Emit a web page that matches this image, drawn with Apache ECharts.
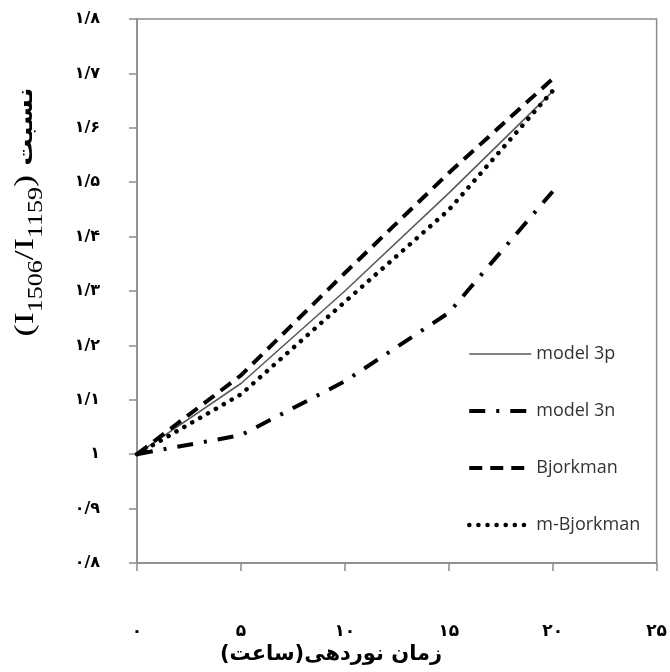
<!DOCTYPE html>
<html>
<head>
<meta charset="utf-8">
<script src="https://cdn.jsdelivr.net/npm/echarts@6/dist/echarts.min.js"></script>
<style>
  html, body { margin: 0; padding: 0; background: #fff; }
  #chart { width: 670px; height: 672px; }
</style>
</head>
<body>
<div id="chart"></div>
<script>
// hours of irradiation
var hours = [0, 5, 10, 15, 20];
var model3p = [1.0, 1.13, 1.30, 1.48, 1.667];
var model3n = [1.0, 1.035, 1.134, 1.26, 1.483];
var bjorkman = [1.0, 1.145, 1.333, 1.517, 1.69];
var mBjorkman = [1.0, 1.11, 1.28, 1.449, 1.668];

var xTickLabels = ['۰', '۵', '۱۰', '۱۵', '۲۰', '۲۵'];
var yTickLabels = ['۰/۸', '۰/۹', '۱', '۱/۱', '۱/۲', '۱/۳', '۱/۴', '۱/۵', '۱/۶', '۱/۷', '۱/۸'];

function pairs(ys) {
    var out = [];
    for (var i = 0; i < hours.length; i++) {
        out.push([hours[i], ys[i]]);
    }
    return out;
}

var chart = echarts.init(document.getElementById('chart'));

var option = {
    animation: false,
    grid: {
        left: 137, right: 11, top: 19, bottom: 109,
        show: true,
        borderColor: '#8c8c8c',
        borderWidth: 1.5
    },
    xAxis: {
        type: 'value',
        min: 0, max: 25, interval: 5,
        splitLine: { show: false },
        axisLine: { lineStyle: { color: '#8c8c8c', width: 1.5 } },
        axisTick: { show: true, length: 8, lineStyle: { color: '#8c8c8c', width: 1.5 } },
        axisLabel: {
            margin: 60,
            color: '#000',
            fontSize: 17,
            fontWeight: 'bold',
            fontFamily: 'DejaVu Sans',
            formatter: function (v) { return xTickLabels[Math.round(v / 5)]; }
        }
    },
    yAxis: {
        type: 'value',
        min: 0.8, max: 1.8, interval: 0.1,
        splitLine: { show: false },
        axisLine: { show: true, lineStyle: { color: '#8c8c8c', width: 1.5 } },
        axisTick: { show: true, length: 8, lineStyle: { color: '#8c8c8c', width: 1.5 } },
        axisLabel: {
            margin: 37,
            color: '#000',
            fontSize: 16,
            fontWeight: 'bold',
            fontFamily: 'DejaVu Sans',
            formatter: function (v) { return yTickLabels[Math.round(v * 10) - 8]; }
        }
    },
    legend: {
        orient: 'vertical',
        left: 462, top: 340,
        itemWidth: 62, itemHeight: 16,
        itemGap: 39,
        // hide the circle that line series put in the middle of the icon
        itemStyle: { color: 'rgba(0,0,0,0)', borderColor: 'rgba(0,0,0,0)', borderWidth: 0, opacity: 0 },
        textStyle: { fontFamily: 'Open Sans', fontSize: 18, color: '#333' },
        data: [
            { name: 'model 3p', lineStyle: { width: 1.6 } },
            { name: 'model 3n', lineStyle: { width: 4 } },
            { name: 'Bjorkman', lineStyle: { width: 4 } },
            { name: 'm-Bjorkman', lineStyle: { width: 4.5 } }
        ]
    },
    graphic: [{
        type: 'text',
        x: 29, y: 212,
        rotation: Math.PI / 2,
        scaleX: 1.3,
        style: {
            text: '{p|(I}{s|1506}{p|/I}{s|1159}{p|) }{f|نسبت}',
            textAlign: 'center',
            textVerticalAlign: 'middle',
            fill: '#000',
            rich: {
                p: { fontFamily: 'Liberation Serif', fontSize: 28, verticalAlign: 'bottom', padding: [0, 0, 7, 0] },
                s: { fontFamily: 'Liberation Serif', fontSize: 20, verticalAlign: 'bottom' },
                f: { fontFamily: 'DejaVu Sans', fontSize: 21, fontWeight: 'bold', verticalAlign: 'bottom', padding: [0, 0, 9, 0] }
            }
        }
    }, {
        type: 'text',
        x: 331, y: 655,
        style: {
            text: 'زمان نوردهی(ساعت)',
            textAlign: 'center',
            textVerticalAlign: 'middle',
            fill: '#000',
            fontFamily: 'DejaVu Sans',
            fontSize: 21,
            fontWeight: 'bold'
        }
    }],
    series: [{
        name: 'model 3p',
        type: 'line',
        symbol: 'none',
        data: pairs(model3p),
        lineStyle: { color: '#5a5a5a', width: 1.6, type: 'solid' },
        itemStyle: { color: '#5a5a5a' }
    }, {
        name: 'model 3n',
        type: 'line',
        symbol: 'none',
        data: pairs(model3n),
        lineStyle: { color: '#000', width: 4, type: [16, 11, 3, 11] },
        itemStyle: { color: '#000' }
    }, {
        name: 'Bjorkman',
        type: 'line',
        symbol: 'none',
        data: pairs(bjorkman),
        lineStyle: { color: '#000', width: 4, type: [13, 8] },
        itemStyle: { color: '#000' }
    }, {
        name: 'm-Bjorkman',
        type: 'line',
        symbol: 'none',
        data: pairs(mBjorkman),
        lineStyle: { color: '#000', width: 4.5, type: [0.1, 9], cap: 'round' },
        itemStyle: { color: '#000' }
    }]
};

chart.setOption(option);
</script>
</body>
</html>
